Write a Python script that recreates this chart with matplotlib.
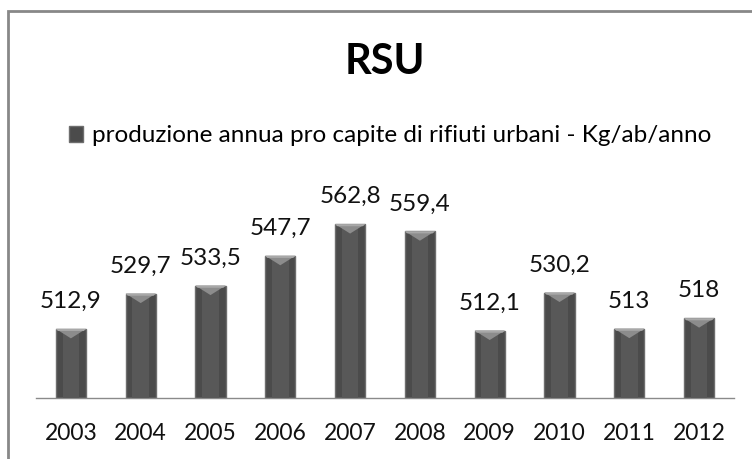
import numpy as np
import matplotlib.pyplot as plt
from matplotlib.patches import Rectangle, Polygon

# ---- data ----
anni = ['2003', '2004', '2005', '2006', '2007', '2008', '2009', '2010', '2011', '2012']
valori = [512.9, 529.7, 533.5, 547.7, 562.8, 559.4, 512.1, 530.2, 513, 518]
etichette = ['512,9', '529,7', '533,5', '547,7', '562,8', '559,4', '512,1', '530,2', '513', '518']
serie = 'produzione annua pro capite di rifiuti urbani - Kg/ab/anno'

plt.rcParams['font.family'] = ['Lato', 'DejaVu Sans']

fig = plt.figure(figsize=(7.52, 4.59), dpi=100)
ax = fig.add_axes([36/752, 61/459, 698/752, 208/459])

x = np.arange(len(anni))
w = 0.43
ymin = 480
ax.bar(x, np.array(valori) - ymin, width=w, bottom=ymin, color='#4b4b4b',
       edgecolor='#6e6e6e', linewidth=1.0, label=serie, zorder=2)
# banda centrale piu chiara
ax.bar(x, np.array(valori) - ymin, width=w*0.55, bottom=ymin, color='#585858',
       linewidth=0, zorder=3)
# smusso in cima alle barre
for xi, v in zip(x, valori):
    h = 4.5
    ax.add_patch(Polygon([[xi - w/2, v], [xi + w/2, v], [xi, v - h]],
                         closed=True, facecolor='#8c8c8c', edgecolor='none', zorder=4))
    ax.add_patch(Polygon([[xi - w/2, v], [xi + w/2, v], [xi + w/2 - 0.03, v - 1.0],
                          [xi - w/2 + 0.03, v - 1.0]],
                         closed=True, facecolor='#a8a8a8', edgecolor='none', zorder=5))

for xi, v, t in zip(x, valori, etichette):
    ax.annotate(t, (xi, v), xytext=(0, 15), textcoords='offset points',
                ha='center', va='baseline', fontsize=17.5, color='#111111')

ax.set_xlim(-0.5, len(anni) - 0.5)
ax.set_ylim(ymin, ymin + 208/2.1)
ax.set_xticks(x)
ax.set_xticklabels(anni, fontsize=16.5, color='#111111')
ax.tick_params(axis='x', length=0, pad=18)
ax.set_yticks([])
for s in ['left', 'right', 'top']:
    ax.spines[s].set_visible(False)
ax.spines['bottom'].set_color('#8a8a8a')
ax.spines['bottom'].set_linewidth(1.0)

# titolo e legenda
fig.text(385/752, 1 - 62/459, 'RSU', ha='center', va='center',
         fontsize=30, fontweight='bold', color='#000000')
h, l = ax.get_legend_handles_labels()
fig.legend(h[:1], l[:1], loc='center', bbox_to_anchor=(390/752, 1 - 136/459),
           frameon=False, fontsize=17.5, handlelength=0.6, handleheight=0.6,
           handletextpad=0.35, borderpad=0)

# cornice del grafico
fig.patches.append(Rectangle((8/752, -0.1), 1.2, 1 - 11/459 + 0.1,
                             transform=fig.transFigure, fill=False,
                             edgecolor='#888888', linewidth=2.0))

fig.savefig('out.png', dpi=100)
